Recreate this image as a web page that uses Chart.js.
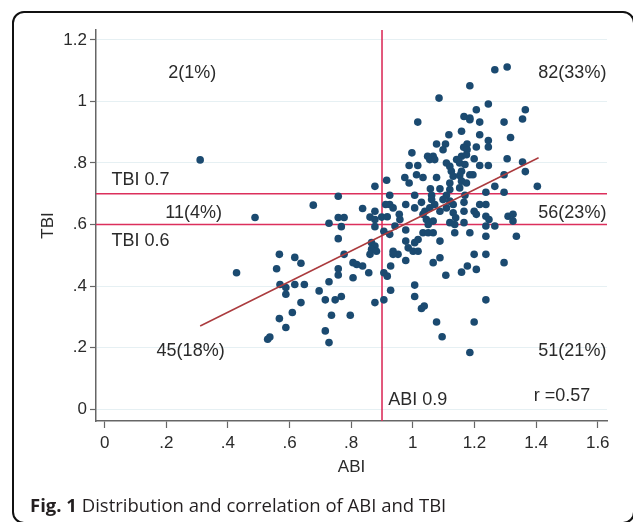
<!DOCTYPE html>
<html>
<head>
<meta charset="utf-8">
<script src="https://cdn.jsdelivr.net/npm/chart.js@4"></script>
<style>
  body { margin: 0; background: #fff; }
  #wrap { position: relative; width: 633px; height: 522px; overflow: hidden; }
  #frame { position: absolute; left: 12px; top: 11px; width: 619px; height: 509px;
           border: 2px solid #111; border-radius: 12px; }
  #chart { position: absolute; left: 0; top: 0; }
  #caption { position: absolute; left: 30px; top: 492px; font-family: "Open Sans", sans-serif;
             font-size: 18.5px; line-height: 1.36; color: #231f20; white-space: nowrap; }
  #caption b { font-weight: 700; }
</style>
</head>
<body>
<div id="wrap">
  <div id="frame"></div>
  <canvas id="chart" width="633" height="522"></canvas>
  <div id="caption"><b>Fig. 1</b> Distribution and correlation of ABI and TBI</div>
</div>
<script>
// ABI / TBI pairs
const abi = [
  0.31, 0.877, 0.915, 0.758, 0.677, 0.837, 0.488, 0.877, 0.861, 0.758,
  0.777, 0.728, 0.768, 0.877, 0.877, 0.899, 0.906, 0.758, 0.866, 0.877,
  0.866, 0.861, 0.882, 0.567, 0.617, 0.637, 0.777, 0.806, 0.818, 0.837,
  0.558, 0.428, 0.758, 0.758, 0.857, 0.906, 0.806, 0.569, 0.588, 0.617,
  0.648, 0.728, 0.696, 0.588, 0.716, 0.748, 0.768, 0.637, 0.877, 0.906,
  0.609, 0.736, 0.797, 0.567, 0.588, 0.716, 0.529, 0.536, 0.728,
  1.266, 1.306, 1.185, 1.085, 1.245, 1.206, 1.365, 1.016, 1.166, 1.185,
  1.185, 1.217, 1.296, 1.356, 1.158, 1.117, 1.217, 1.317, 1.077, 1.106,
  1.098, 1.176, 1.165, 1.176, 1.206, 1.245, 1.245, 0.997, 1.048, 1.066,
  1.055, 1.071, 1.158, 1.174, 1.199, 1.306, 1.356, 0.988, 1.016, 1.109,
  1.120, 1.142, 1.152, 1.169, 1.217, 1.245, 1.125, 1.158, 1.131, 1.152,
  1.077, 1.012, 1.033, 1.185, 1.195, 0.974, 0.988, 1.365, 1.296, 1.120,
  1.158, 1.174, 1.266, 1.404, 1.057, 1.088, 1.120, 1.152, 1.237, 1.296,
  0.925, 1.006, 1.061, 1.109, 1.169,
  0.925, 0.912, 0.936, 0.977, 1.028, 1.061, 1.071, 1.055, 1.098, 1.120,
  1.131, 1.109, 1.166, 1.217, 1.237, 1.006, 1.039, 1.033, 1.088, 1.131,
  1.139, 1.166, 1.199, 1.206, 1.237, 1.247, 0.917, 0.956, 0.958, 1.309,
  1.325, 1.325, 1.044, 1.050, 1.066, 1.120, 1.136, 1.166, 1.237, 1.266,
  0.942, 0.925, 0.977, 1.033, 1.050, 1.066, 1.136, 1.185, 1.237, 1.336,
  0.977, 1.006, 1.017, 1.088, 0.985, 1.001, 1.017, 0.936, 0.952, 0.936,
  1.199, 1.237, 0.977, 1.066, 1.088, 1.296, 0.928, 1.177, 1.158, 1.206,
  0.917, 1.107, 1.006, 0.928, 1.006, 1.028, 1.037, 1.237, 1.077, 1.199,
  1.095, 1.185
];
const tbi = [
  0.81, 0.724, 0.744, 0.692, 0.663, 0.652, 0.623, 0.643, 0.624, 0.623,
  0.623, 0.604, 0.593, 0.616, 0.593, 0.624, 0.578, 0.554, 0.541, 0.530,
  0.519, 0.503, 0.513, 0.503, 0.493, 0.474, 0.503, 0.476, 0.470, 0.465,
  0.456, 0.443, 0.456, 0.436, 0.443, 0.443, 0.427, 0.405, 0.395, 0.405,
  0.405, 0.414, 0.384, 0.373, 0.355, 0.355, 0.366, 0.346, 0.346, 0.355,
  0.314, 0.305, 0.305, 0.294, 0.265, 0.254, 0.227, 0.234, 0.216,
  1.103, 1.112, 1.051, 1.011, 0.992, 0.973, 0.973, 0.933, 0.951, 0.946,
  0.941, 0.933, 0.933, 0.943, 0.903, 0.892, 0.892, 0.883, 0.862, 0.862,
  0.843, 0.862, 0.851, 0.843, 0.852, 0.873, 0.852, 0.833, 0.822, 0.822,
  0.811, 0.811, 0.822, 0.827, 0.814, 0.814, 0.803, 0.792, 0.792, 0.800,
  0.789, 0.811, 0.800, 0.795, 0.792, 0.792, 0.773, 0.773, 0.757, 0.759,
  0.753, 0.762, 0.753, 0.762, 0.762, 0.753, 0.735, 0.772, 0.762, 0.735,
  0.741, 0.735, 0.724, 0.724, 0.716, 0.716, 0.714, 0.719, 0.705, 0.705,
  0.695, 0.695, 0.695, 0.695, 0.695,
  0.665, 0.665, 0.654, 0.665, 0.672, 0.681, 0.665, 0.654, 0.681, 0.676,
  0.665, 0.654, 0.672, 0.665, 0.665, 0.654, 0.643, 0.633, 0.643, 0.638,
  0.622, 0.643, 0.643, 0.633, 0.627, 0.616, 0.625, 0.633, 0.616, 0.627,
  0.633, 0.611, 0.616, 0.600, 0.611, 0.606, 0.600, 0.606, 0.595, 0.595,
  0.595, 0.568, 0.582, 0.573, 0.573, 0.573, 0.573, 0.573, 0.562, 0.562,
  0.546, 0.541, 0.551, 0.546, 0.524, 0.513, 0.513, 0.513, 0.503, 0.503,
  0.503, 0.503, 0.483, 0.476, 0.492, 0.476, 0.465, 0.465, 0.445, 0.454,
  0.432, 0.435, 0.403, 0.386, 0.366, 0.327, 0.335, 0.355, 0.283, 0.283,
  0.235, 0.184
];

// cut-offs and linear fit
const abiCut = 0.9;
const tbiCuts = [0.7, 0.6];
const fitAbi = [0.31, 1.408];
const fitTbi = [0.27, 0.817];

// axes
const xMin = -0.028, xMax = 1.63;
const yMin = -0.039, yMax = 1.2325;
const xTicks = [0, 0.2, 0.4, 0.6, 0.8, 1, 1.2, 1.4, 1.6];
const xTickLabels = ['0', '.2', '.4', '.6', '.8', '1', '1.2', '1.4', '1.6'];
const yTicks = [0, 0.2, 0.4, 0.6, 0.8, 1, 1.2];
const yTickLabels = ['0', '.2', '.4', '.6', '.8', '1', '1.2'];

// quadrant counts and other labels
const quadrantLabels = ['2(1%)', '82(33%)', '11(4%)', '56(23%)', '45(18%)', '51(21%)'];
const cutLabels = ['TBI 0.7', 'TBI 0.6', 'ABI 0.9'];
const corrLabel = 'r =0.57';

Chart.defaults.font.family = '"Liberation Sans", Arial, sans-serif';
Chart.defaults.color = '#2a2a2a';

const points = abi.map((a, i) => ({ x: a, y: tbi[i] }));
const lineRed = '#dc2f5c';

const textPlugin = {
  id: 'texts',
  afterDatasetsDraw(chart) {
    const { ctx, scales: { x, y } } = chart;
    ctx.save();
    ctx.font = '18px "Liberation Sans", Arial, sans-serif';
    ctx.fillStyle = '#2a2a2a';
    ctx.textBaseline = 'middle';
    const put = (txt, vx, vy, align) => {
      ctx.textAlign = align;
      ctx.fillText(txt, x.getPixelForValue(vx), y.getPixelForValue(vy));
    };
    put(quadrantLabels[0], 0.284, 1.092, 'center');
    put(quadrantLabels[1], 1.628, 1.092, 'right');
    put(quadrantLabels[2], 0.289, 0.638, 'center');
    put(quadrantLabels[3], 1.628, 0.638, 'right');
    put(quadrantLabels[4], 0.279, 0.19, 'center');
    put(quadrantLabels[5], 1.628, 0.19, 'right');
    put(cutLabels[0], 0.022, 0.745, 'left');
    put(cutLabels[1], 0.022, 0.546, 'left');
    put(cutLabels[2], 0.92, 0.029, 'left');
    put(corrLabel, 1.392, 0.042, 'left');
    ctx.restore();
  }
};

new Chart(document.getElementById('chart'), {
  type: 'scatter',
  data: {
    datasets: [
      {
        type: 'line',
        data: [{ x: fitAbi[0], y: fitTbi[0] }, { x: fitAbi[1], y: fitTbi[1] }],
        borderColor: '#ab3b3e', borderWidth: 1.5, pointRadius: 0, order: 0
      },
      {
        data: points,
        backgroundColor: '#1b4a70', borderColor: '#1b4a70', borderWidth: 0,
        pointRadius: 3.8, order: 1
      },
      {
        type: 'line',
        data: [{ x: abiCut, y: yMin }, { x: abiCut, y: yMax }],
        borderColor: lineRed, borderWidth: 1.6, pointRadius: 0, order: 2
      },
      ...tbiCuts.map(c => ({
        type: 'line',
        data: [{ x: xMin, y: c }, { x: xMax, y: c }],
        borderColor: lineRed, borderWidth: 1.6, pointRadius: 0, order: 2
      }))
    ]
  },
  options: {
    responsive: false,
    animation: false,
    events: [],
    layout: { padding: { top: 30, right: 26, left: 0, bottom: 40 } },
    plugins: { legend: { display: false }, tooltip: { enabled: false } },
    scales: {
      x: {
        type: 'linear', min: xMin, max: xMax,
        afterBuildTicks: s => { s.ticks = xTicks.map(v => ({ value: v })); },
        afterFit: s => { s.height = 61; },
        ticks: { font: { size: 17 }, color: '#2a2a2a', padding: 5, maxRotation: 0,
                 callback: (v, i) => xTickLabels[i] },
        grid: { drawOnChartArea: false, tickLength: 7, tickColor: '#666', tickWidth: 1.2 },
        border: { color: '#666', width: 1.5 },
        title: { display: true, text: 'ABI', font: { size: 17 }, color: '#2a2a2a',
                 padding: { top: 0, bottom: 4 } }
      },
      y: {
        type: 'linear', min: yMin, max: yMax,
        afterBuildTicks: s => { s.ticks = yTicks.map(v => ({ value: v })); },
        afterFit: s => { s.width = 96; },
        ticks: { font: { size: 17 }, color: '#2a2a2a', padding: 3,
                 callback: (v, i) => yTickLabels[i] },
        grid: { color: '#e6f0f3', lineWidth: 1, tickLength: 6, tickColor: '#666', tickWidth: 1.2 },
        border: { color: '#666', width: 1.5 },
        title: { display: true, text: 'TBI', font: { size: 17 }, color: '#2a2a2a',
                 padding: { top: 38, bottom: 0 } }
      }
    }
  },
  plugins: [textPlugin]
});
</script>
</body>
</html>
